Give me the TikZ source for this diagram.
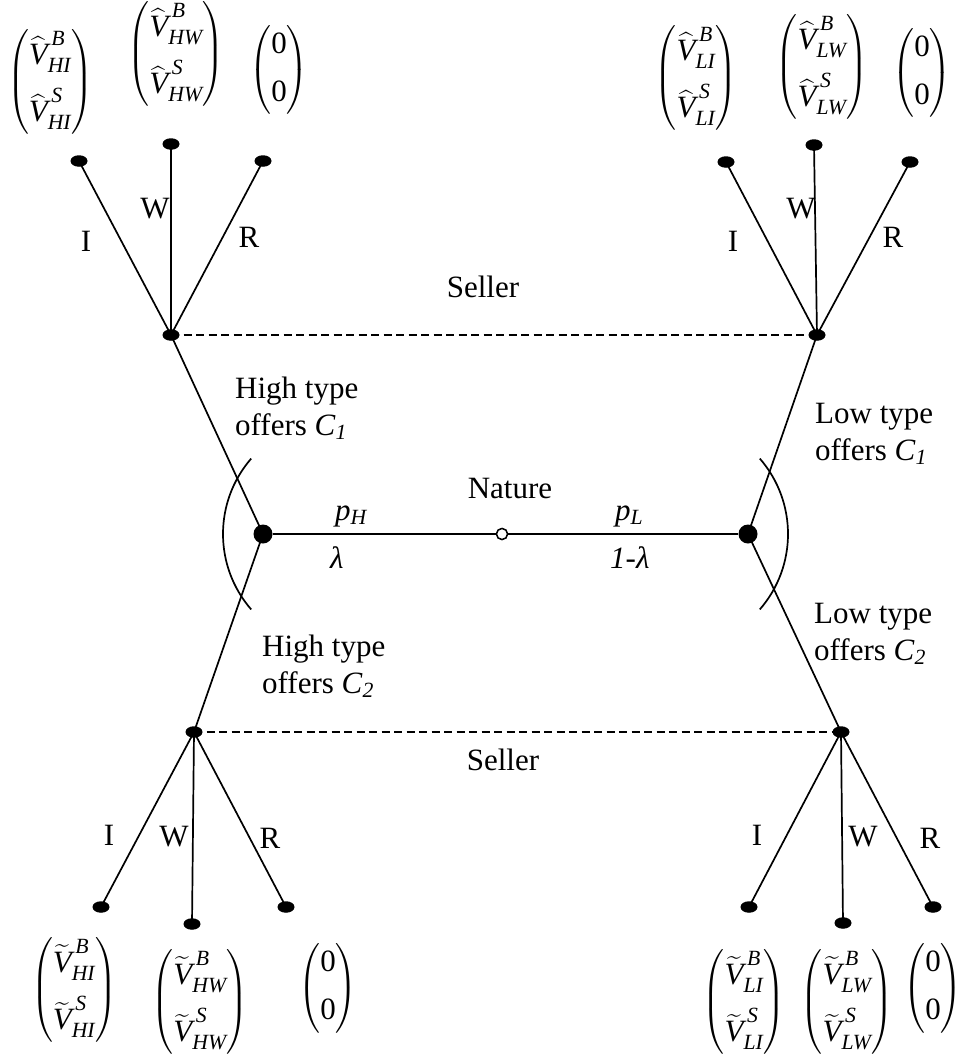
\RequirePackage{fix-cm}
\documentclass[tikz,border=0pt]{standalone}
\usepackage{amsmath}
\usepackage[no-math]{fontspec}
\setmainfont{Liberation Serif}
\usetikzlibrary{shapes.geometric,calc}

% italic letters taken from the text font
\newcommand{\iv}[1]{\text{\itshape #1}}
\newcommand{\hv}[2]{\widehat{\iv{V}}^{\,\iv{#1}}_{\iv{#2}}}
\newcommand{\tv}[2]{\widetilde{\iv{V}}^{\,\iv{#1}}_{\iv{#2}}}
\newcommand{\payoff}[4]{$\begin{pmatrix}#1{#2}{#4}\\[13pt]#1{#3}{#4}\end{pmatrix}$}
\newcommand{\zerovec}{$\begin{pmatrix}\text{0}\\[11.5pt]\text{0}\end{pmatrix}$}
\newcommand{\sub}[1]{\textsubscript{\itshape #1}}

\tikzset{
  edge/.style={line width=1.7pt},
  infoset/.style={line width=1.7pt, dash pattern=on 8pt off 4.5pt},
  leaf/.style={ellipse, fill, inner sep=0pt, minimum width=17pt, minimum height=11.5pt},
  decision/.style={ellipse, fill, inner sep=0pt, minimum width=17pt, minimum height=11.5pt},
  typenode/.style={circle, fill, inner sep=0pt, minimum size=19pt},
  chance/.style={circle, draw, fill=white, line width=1.4pt, inner sep=0pt, minimum size=11pt},
  txt/.style={inner sep=0pt, anchor=base west},
  ctxt/.style={inner sep=0pt, anchor=base},
  act/.style={inner sep=0pt, anchor=center},
  vec/.style={inner sep=0pt, anchor=center},
  two/.style={inner sep=0pt, anchor=base west, align=left},
}

\begin{document}
\begin{tikzpicture}[x=1pt, y=-1pt, font=\fontsize{31}{36.5}\selectfont]
\useasboundingbox (0,0) rectangle (959,1055);

% nature and the two types of the first mover
\node[chance]   (n)  at (502,534) {};
\node[typenode] (h)  at (263,534) {};
\node[typenode] (l)  at (748,534) {};

% seller decision nodes
\node[decision] (sh1) at (171,335) {};
\node[decision] (sl1) at (817,335) {};
\node[decision] (sh2) at (194,732) {};
\node[decision] (sl2) at (841,732) {};

% terminal nodes
\node[leaf] (t1)  at (79,161)  {};
\node[leaf] (t2)  at (171,144) {};
\node[leaf] (t3)  at (263,161) {};
\node[leaf] (t4)  at (726,162) {};
\node[leaf] (t5)  at (814,145) {};
\node[leaf] (t6)  at (910,162) {};
\node[leaf] (b1)  at (101,907) {};
\node[leaf] (b2)  at (192,924) {};
\node[leaf] (b3)  at (286,907) {};
\node[leaf] (b4)  at (749,907) {};
\node[leaf] (b5)  at (843,923) {};
\node[leaf] (b6)  at (933,907) {};

% branches
\draw[edge] (h) -- (n) -- (l);
\draw[edge] (h.center) -- (sh1.center);
\draw[edge] (h.center) -- (sh2.center);
\draw[edge] (l.center) -- (sl1.center);
\draw[edge] (l.center) -- (sl2.center);
\foreach \a/\b in {sh1/t1, sh1/t2, sh1/t3, sl1/t4, sl1/t5, sl1/t6,
                   sh2/b1, sh2/b2, sh2/b3, sl2/b4, sl2/b5, sl2/b6}
  \draw[edge] (\a.center) -- (\b.center);

% information sets of the seller
\draw[infoset] (sh1.center) -- (sl1.center);
\draw[infoset] (sh2.center) -- (sl2.center);

% arcs marking the pooled offers
\draw[edge] ($(h)+(75,0)+(139:115pt)$) arc[start angle=139, end angle=221, radius=115pt];
\draw[edge] ($(l)+(-75,0)+(-41:115pt)$) arc[start angle=-41, end angle=41, radius=115pt];

% redraw nature over the lines
\node[chance] at (n) {};

% labels
\node[ctxt] (seller1) at (483,297) {Seller};
\node[ctxt] (seller2) at (503,770) {Seller};
\node[ctxt] (nature)  at (510,498) {Nature};

\node[txt] (ph)  at (335,520) {\textit{p}\sub{H}};
\node[txt] (lam) at (330,568) {\textit{λ}};
\node[txt] (pl)  at (615,520) {\textit{p}\sub{L}};
\node[txt] (lam2) at (610,568) {\textit{1-λ}};

\node[two] (hc1) at (235,435) {High type\\offers \textit{C}\sub{1}};
\node[two] (lc1) at (815,460) {Low type\\offers \textit{C}\sub{1}};
\node[two] (hc2) at (262,693) {High type\\offers \textit{C}\sub{2}};
\node[two] (lc2) at (814,660) {Low type\\offers \textit{C}\sub{2}};

% actions of the seller
\node[act] at (86,241)  {I};
\node[act] at (155,209) {W};
\node[act] at (249,237) {R};
\node[act] at (733,241) {I};
\node[act] at (801,209) {W};
\node[act] at (893,237) {R};
\node[act] at (109,835) {I};
\node[act] at (174,837) {W};
\node[act] at (270,838) {R};
\node[act] at (757,835) {I};
\node[act] at (863,837) {W};
\node[act] at (930,838) {R};

% payoffs (buyer, seller)
\node[vec] (p1) at (50,82)   {\payoff{\hv}{B}{S}{HI}};
\node[vec] (p2) at (176,54)  {\payoff{\hv}{B}{S}{HW}};
\node[vec] (p3) at (279,70)  {\zerovec};
\node[vec] (p4) at (696,78)  {\payoff{\hv}{B}{S}{LI}};
\node[vec] (p5) at (822,67)  {\payoff{\hv}{B}{S}{LW}};
\node[vec] (p6) at (922,73)  {\zerovec};
\node[vec] (q1) at (74,990)  {\payoff{\tv}{B}{S}{HI}};
\node[vec] (q2) at (200,1002) {\payoff{\tv}{B}{S}{HW}};
\node[vec] (q3) at (328,988) {\zerovec};
\node[vec] (q4) at (744,1002) {\payoff{\tv}{B}{S}{LI}};
\node[vec] (q5) at (847,1002) {\payoff{\tv}{B}{S}{LW}};
\node[vec] (q6) at (933,988) {\zerovec};
\end{tikzpicture}
\end{document}
